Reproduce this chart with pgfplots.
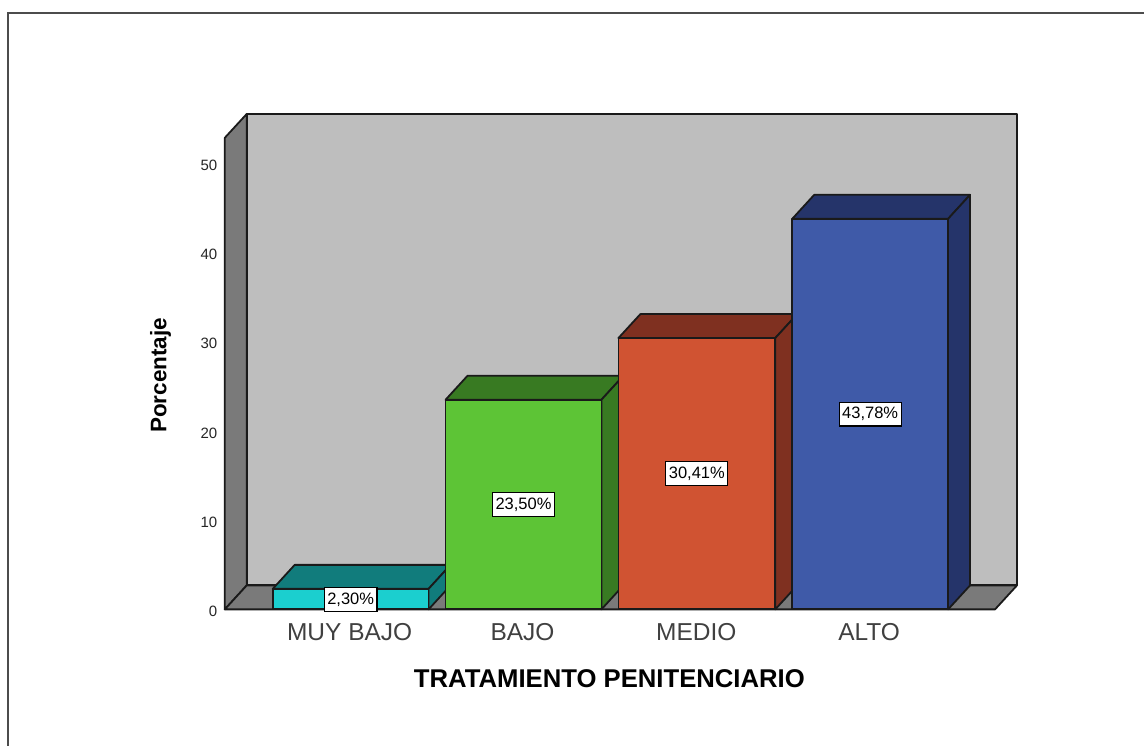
\documentclass[border=0pt]{standalone}
\usepackage{fontspec}
\setmainfont{Liberation Sans}
\usepackage{pgfplots}
\pgfplotsset{compat=1.18}
\definecolor{wall}{HTML}{BEBEBE}
\definecolor{side}{HTML}{7A7A7A}
\definecolor{edge}{HTML}{1A1A1A}
\begin{document}
\begin{tikzpicture}[x=1pt,y=1pt]
\begin{axis}[
  scale only axis, width=771pt, height=472pt,
  xmin=223, xmax=994, ymin=0, ymax=52.86,
  clip=false,
  axis line style={draw=none},
  major tick length=0pt,
  tick style={draw=none},
  xtick={349,522,696,869},
  xticklabels={MUY BAJO,BAJO,MEDIO,ALTO},
  ytick={0,10,20,30,40,50},
  /pgf/number format/assume math mode=true,
  xticklabel style={font=\fontsize{24.5}{26}\selectfont, text=black!75, anchor=center, yshift=-23pt},
  yticklabel style={font=\fontsize{15}{16}\selectfont, text=black!85, anchor=east, xshift=-3pt, yshift=-2pt},
  xlabel={\textbf{TRATAMIENTO PENITENCIARIO}},
  ylabel={\textbf{Porcentaje}},
  xlabel style={font=\fontsize{25.7}{27}\selectfont, at={(axis description cs:0.5006,-0.146)}, anchor=center},
  ylabel style={font=\fontsize{22.5}{24}\selectfont, at={(axis description cs:-0.082,0.496)}, anchor=center},
  every axis plot/.append style={line width=1.8pt, draw=edge, line join=round},
]
% bounding box and outer frame
\path (axis cs:-1,68.31) rectangle (axis cs:1144,-15.34);
\draw[line width=2.2pt, draw=black!70] (axis cs:1144,66.85) -- (axis cs:7,66.85) -- (axis cs:7,-15.34);

% walls and floor
\addplot[fill=wall] coordinates {(246,2.69) (1017,2.69) (1017,55.54) (246,55.54)} --cycle;
\addplot[fill=side] coordinates {(224,0) (224,52.86) (246,55.54) (246,2.69)} --cycle;
\addplot[fill=side] coordinates {(224,0) (246,2.69) (1017,2.69) (995,0)} --cycle;

% MUY BAJO
\addplot[fill={rgb,255:red,17;green,124;blue,124}] coordinates {(272,2.30) (294,4.99) (450,4.99) (428,2.30)} --cycle;
\addplot[fill={rgb,255:red,17;green,124;blue,124}] coordinates {(428,0) (450,2.69) (450,4.99) (428,2.30)} --cycle;
\addplot[ybar, bar width=156pt, bar shift=0pt, fill={rgb,255:red,27;green,207;blue,207}] coordinates {(350,2.30)};

% BAJO
\addplot[fill={rgb,255:red,56;green,122;blue,34}] coordinates {(445,23.50) (467,26.19) (623,26.19) (601,23.50)} --cycle;
\addplot[fill={rgb,255:red,56;green,122;blue,34}] coordinates {(601,0) (623,2.69) (623,26.19) (601,23.50)} --cycle;
\addplot[ybar, bar width=156pt, bar shift=0pt, fill={rgb,255:red,93;green,196;blue,54}] coordinates {(523,23.50)};

% MEDIO
\addplot[fill={rgb,255:red,127;green,48;blue,32}] coordinates {(618,30.41) (640,33.10) (797,33.10) (775,30.41)} --cycle;
\addplot[fill={rgb,255:red,127;green,48;blue,32}] coordinates {(775,0) (797,2.69) (797,33.10) (775,30.41)} --cycle;
\addplot[ybar, bar width=157pt, bar shift=0pt, fill={rgb,255:red,208;green,83;blue,50}] coordinates {(696.5,30.41)};

% ALTO
\addplot[fill={rgb,255:red,37;green,52;blue,106}] coordinates {(792,43.78) (814,46.47) (970,46.47) (948,43.78)} --cycle;
\addplot[fill={rgb,255:red,37;green,52;blue,106}] coordinates {(948,0) (970,2.69) (970,46.47) (948,43.78)} --cycle;
\addplot[ybar, bar width=156pt, bar shift=0pt, fill={rgb,255:red,63;green,90;blue,168}] coordinates {(870,43.78)};

% value labels
\begin{scope}[every node/.style={draw=black, line width=1.2pt, fill=white, text=black, font=\fontsize{16.5}{18}\selectfont, inner xsep=3pt, inner ysep=3pt, minimum height=24pt, anchor=center}]
\node at (axis cs:350,1.12) {2,30\%};
\node at (axis cs:523,11.75) {23,50\%};
\node at (axis cs:696.5,15.2) {30,41\%};
\node at (axis cs:870,21.89) {43,78\%};
\end{scope}
\end{axis}
\end{tikzpicture}
\end{document}
